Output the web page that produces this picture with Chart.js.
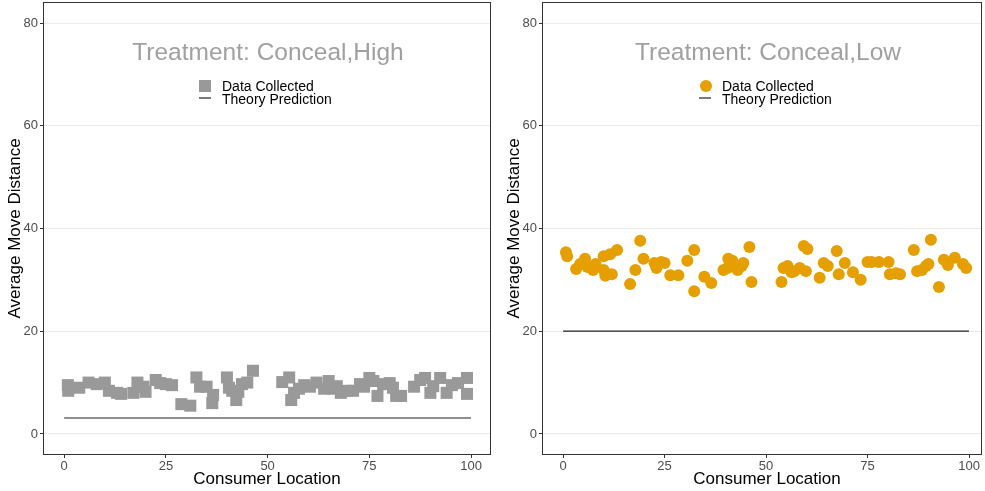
<!DOCTYPE html>
<html><head><meta charset="utf-8">
<script src="https://cdn.jsdelivr.net/npm/chart.js@4/dist/chart.umd.min.js"></script>
<style>
html,body{margin:0;padding:0;background:#fff;width:985px;height:491px;overflow:hidden;}
.wrap{position:absolute;top:0;height:491px;}
</style></head><body>
<div class="wrap" style="left:0;width:492px"><canvas id="c1" width="492" height="491"></canvas></div>
<div class="wrap" style="left:492px;width:493px"><canvas id="c2" width="493" height="491"></canvas></div>
<script>
const yTicks = [0, 20, 40, 60, 80];
const xTicks = [0, 25, 50, 75, 100];
const titles = ["Treatment: Conceal,High", "Treatment: Conceal,Low"];
const legendLabels = ["Data Collected", "Theory Prediction"];
const xTitle = "Consumer Location";
const yTitle = "Average Move Distance";

// Left panel: Conceal, High
const highX = [0.9,1,3.7,6,8,10,11,13,14,17,18,19.5,20,22.5,23.6,25,26.5,28.8,31,32.5,33.4,35,36.4,36.6,40,40.5,41.3,42.3,42.8,43.7,45,46.4,53.6,55.3,55.8,56.5,57.7,59,60.4,62,63.9,65,66,67,68,69.5,71,72.7,73.7,75,76,77,78.4,80,80.8,81.6,82.8,86,87.5,88.7,90,90.7,92.4,94,95.3,96.8,99,99];
const highY = [9.5,8.4,9,10,9.7,10,8.4,8,7.8,8,10,9.2,8.2,10.5,9.9,9.7,9.5,5.8,5.5,11,9.2,9.2,6,7.6,11,9,8.4,6.6,8.2,9.7,10,12.3,10.1,11,6.6,8,8.8,9.5,9.2,10,8.8,10.3,8.8,9.3,8,8.4,8.4,9.7,9.2,10.9,10.3,7.4,9.7,9.9,9,7.4,7.4,9.2,10.5,10.9,8,9.3,10.9,8,9.5,9.9,10.9,7.8];
const highTheory = 3.1;

// Right panel: Conceal, Low
const lowX = [0.7,1,3.2,4.2,5.4,6,7.4,8,10,10,10.4,11.6,12,13.3,16.5,17.8,19,19.8,22.5,23,24.2,25,26.4,28.4,30.6,32.3,32.3,34.8,36.5,39.5,40.5,40.7,41.7,43,44,44.4,45.9,46.4,53.8,54.3,55.3,56.3,57,58.3,59.3,59.8,60.2,63.2,64.2,65.2,67.4,67.9,69.4,71.4,73.3,75,76,77.8,80.2,80.5,82,83,86.4,87.2,88.4,89.4,90,90.6,92.6,93.8,94.8,96.5,98.5,99.3];
const lowY = [35.4,34.6,32.1,33.1,34.1,32.5,31.9,33.1,34.6,31.9,30.8,35,31.1,35.8,29.2,31.9,37.6,34.1,33.3,32.3,33.5,33.3,30.9,30.9,33.7,27.8,35.8,30.6,29.4,31.9,32.3,34.1,33.7,31.9,32.7,33.3,36.4,29.6,29.6,32.3,32.7,31.5,31.7,32.3,36.6,31.7,36,30.4,33.3,32.7,35.6,31.1,33.3,31.5,30,33.5,33.5,33.5,33.5,31.1,31.3,31.1,35.8,31.7,31.9,32.7,33.1,37.8,28.6,33.9,32.9,34.3,33.1,32.3];
const lowTheory = 20;

const FONT = "'Liberation Sans', Arial, Helvetica, sans-serif";
Chart.defaults.font.family = FONT;

function makeChart(id, xs, ys, theory, color, style, radius, title, yAxisW, padRight, xMin, xMax, shift) {
  const pts = xs.map((x, i) => ({x: x, y: ys[i]}));
  const deco = {
    id: 'deco',
    afterDraw(chart) {
      const ctx = chart.ctx, a = chart.chartArea;
      const cx = (a.left + a.right) / 2 + shift;
      ctx.save();
      // border
      ctx.strokeStyle = '#333333'; ctx.lineWidth = 1;
      ctx.strokeRect(Math.round(a.left) + 0.5, Math.round(a.top) + 0.5, Math.round(a.right - a.left) - 1, Math.round(a.bottom - a.top) - 1);
      // title
      ctx.fillStyle = '#a0a0a0'; ctx.font = '24.5px ' + FONT;
      ctx.textAlign = 'center'; ctx.textBaseline = 'alphabetic';
      ctx.fillText(title, cx + 1, 59.5);
      // legend
      ctx.fillStyle = color;
      const sx = cx - 62;
      if (style === 'rect') { ctx.fillRect(sx - 6, 80, 12, 12); }
      else { ctx.beginPath(); ctx.arc(sx + 1, 86, 6, 0, Math.PI * 2); ctx.fill(); }
      ctx.strokeStyle = '#222222'; ctx.lineWidth = 1.2;
      ctx.beginPath(); ctx.moveTo(sx - 6, 98); ctx.lineTo(sx + 6, 98); ctx.stroke();
      ctx.fillStyle = '#000'; ctx.font = '14px ' + FONT; ctx.textAlign = 'left';
      ctx.fillText(legendLabels[0], cx - 45, 91);
      ctx.fillText(legendLabels[1], cx - 45, 104);
      // axis titles
      ctx.font = '17px ' + FONT; ctx.textAlign = 'center';
      ctx.fillText(xTitle, cx, 484);
      ctx.save();
      ctx.translate(a.left - 23, (a.top + a.bottom) / 2);
      ctx.rotate(-Math.PI / 2);
      ctx.fillText(yTitle, 0, 0);
      ctx.restore();
      ctx.restore();
    }
  };
  return new Chart(document.getElementById(id), {
    type: 'scatter',
    data: {datasets: [
      {type: 'line', data: [{x: 0, y: theory}, {x: 100, y: theory}], borderColor: '#222222', borderWidth: 1.2, pointRadius: 0, fill: false, order: 2},
      {data: pts, backgroundColor: color, borderColor: color, borderWidth: 0, pointStyle: style, pointRadius: radius, pointHoverRadius: radius, order: 1}
    ]},
    options: {
      responsive: false, animation: false, devicePixelRatio: 1,
      layout: {autoPadding: false, padding: {top: 2, right: padRight, left: 0, bottom: 0}},
      plugins: {legend: {display: false}, tooltip: {enabled: false}, title: {display: false}},
      scales: {
        x: {type: 'linear', min: xMin, max: xMax,
          afterBuildTicks: s => { s.ticks = xTicks.map(v => ({value: v})); },
          afterFit: s => { s.height = 36; s.paddingLeft = 0; s.paddingRight = 0; },
          grid: {color: 'rgba(0,0,0,0)', tickColor: '#333333', tickLength: 3, drawTicks: true},
          border: {display: false},
          ticks: {color: '#4d4d4d', font: {size: 13}, padding: 1, maxRotation: 0, autoSkip: false}
        },
        y: {type: 'linear', min: -4.1, max: 84.1,
          afterBuildTicks: s => { s.ticks = yTicks.map(v => ({value: v})); },
          afterFit: s => { s.width = yAxisW; s.paddingTop = 0; s.paddingBottom = 0; },
          grid: {color: '#ebebeb', lineWidth: 1, tickColor: '#333333', tickLength: 3, drawTicks: true},
          border: {display: false},
          ticks: {color: '#4d4d4d', font: {size: 13}, padding: 2, autoSkip: false}
        }
      }
    },
    plugins: [deco]
  });
}

makeChart('c1', highX, highY, highTheory, '#999999', 'rect', 8.5, titles[0], 43, 1, -5.2, 104.9, 0);
makeChart('c2', lowX, lowY, lowTheory, '#E69F00', 'circle', 6, titles[1], 50, 3, -5.2, 103.2, 5);
</script>
</body></html>
